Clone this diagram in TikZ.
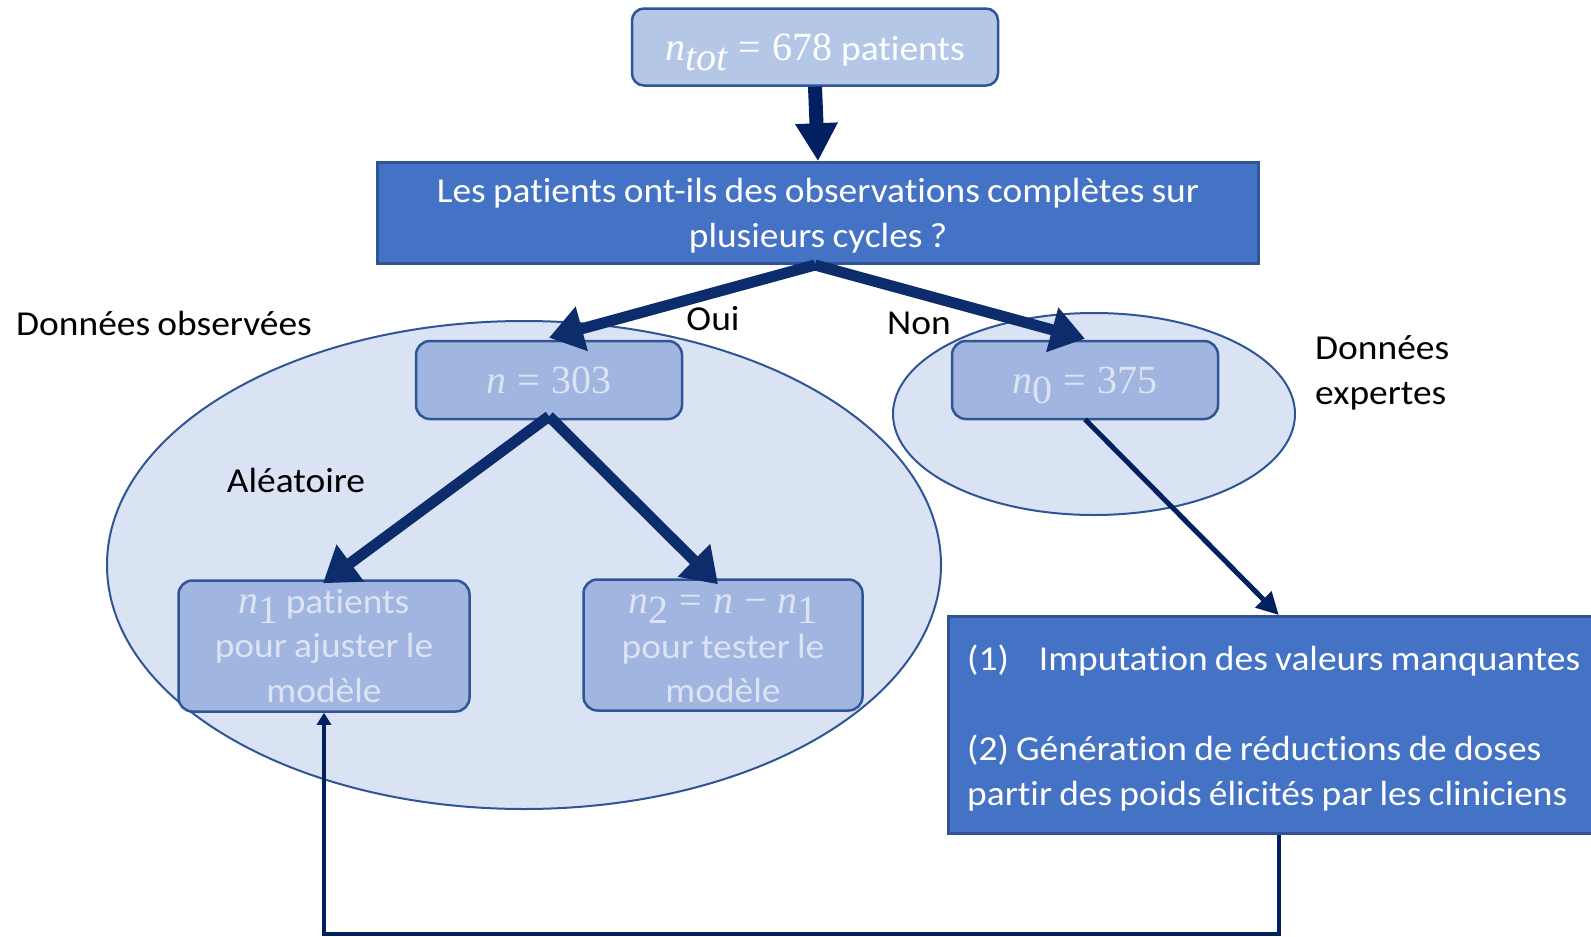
\documentclass[tikz,border=0pt]{standalone}
\usepackage{fontspec}
\setmainfont{Carlito}[Ligatures=NoCommon, FakeStretch=1.07, WordSpace=0.85]
\newfontfamily\mathfam{Liberation Serif}
\newcommand\mfs{\fontsize{40}{40}\selectfont}
\newcommand\mv[1]{{\mathfam\mfs\itshape #1}}
\newcommand\mn[1]{{\mathfam\mfs #1}}
\newcommand\subs[1]{\raisebox{-0.28em}{\fontsize{26}{26}\selectfont #1}}
\newcommand\mop[1]{\hspace{11pt}{\mathfam\mfs #1}\hspace{11pt}}
\usetikzlibrary{arrows.meta,shapes.geometric}
\definecolor{navy}{HTML}{002060}
\definecolor{navyb}{HTML}{0C2C6C}
\definecolor{bord}{HTML}{2F5597}
\definecolor{qfill}{HTML}{4472C4}
\definecolor{topfill}{HTML}{B4C7E7}
\definecolor{ellfill}{HTML}{DAE3F3}
\definecolor{boxfill}{HTML}{A0B6E0}
\definecolor{boxtext}{HTML}{DCE4F3}
\tikzset{
  darkbox/.style={draw=bord, line width=2.5pt, fill=qfill, text=white, inner sep=0pt},
  lightbox/.style={draw=bord, line width=2.5pt, fill=boxfill, text=boxtext, rounded corners=14pt, inner sep=0pt, align=center, font=\fontsize{35}{44.5}\selectfont},
  zone/.style={ellipse, draw=bord, line width=2pt, fill=ellfill, inner sep=0pt},
  lab/.style={text=black, font=\fontsize{35}{45}\selectfont, inner sep=0pt},
  bigarrow/.style={draw=navyb, line width=11pt, -{Triangle[length=34pt,width=44pt]}},
  thinarrow/.style={draw=navy, line width=5pt, -{Triangle[length=22pt,width=22pt]}},
  feedback/.style={draw=navy, line width=3.5pt, -{Triangle[length=12pt,width=14pt]}}
}
\begin{document}
\begin{tikzpicture}[x=1pt,y=-1pt]
\useasboundingbox (0,0) rectangle (1591,937);
\clip (0,0) rectangle (1591,937);
\fill[white] (0,0) rectangle (1591,937);

% zones
\node[zone, minimum width=834pt, minimum height=488pt] (eobs) at (524,565) {};
\node[zone, minimum width=402pt, minimum height=202pt] (eexp) at (1094,414) {};

% top box
\node[draw=bord, line width=2.5pt, fill=topfill, text=white, rounded corners=12pt,
      minimum width=366pt, minimum height=77pt, inner sep=0pt, text depth=0pt,
      font=\fontsize{35}{40}\selectfont] (top) at (815,47)
  {\mv{n}\subs{\mv{tot}}\mop{=}\mn{678}\hspace{9pt}patients};

% question box
\node[darkbox, minimum width=881pt, minimum height=101pt, align=center, text depth=0pt,
      font=\fontsize{35}{45}\selectfont] (q) at (818,213)
  {Les patients ont-ils des observations complètes sur\\plusieurs cycles ?};

% n boxes
\node[lightbox, minimum width=266pt, minimum height=78pt] (n) at (549,380) {\mv{n}\mop{=}\mn{303}};
\node[lightbox, minimum width=266pt, minimum height=78pt, text depth=0pt] (n0) at (1085,380) {\mv{n}\subs{\mn{0}}\mop{=}\mn{375}};
\node[lightbox, minimum width=291pt, minimum height=131pt] (n1) at (324,646)
  {\mv{n}\subs{\mn{1}} patients\\pour ajuster le\\modèle};
\node[lightbox, minimum width=279pt, minimum height=131pt] (n2) at (723,645)
  {\rule{0pt}{27pt}\mv{n}\subs{\mn{2}}\mop{=}\mv{n}\mop{−}\mv{n}\subs{\mn{1}}\\pour tester le\\modèle};

% big box
\node[darkbox, anchor=north west, minimum width=661pt, minimum height=217pt] (big) at (947,615) {};
\node[anchor=west, align=left, text=white, inner sep=0pt, text depth=0pt,
      font=\fontsize{35}{45}\selectfont] (bigtxt) at ([xshift=20pt]big.west)
  {(1)\hspace{30pt}Imputation des valeurs manquantes\\[45pt]
   (2) Génération de réductions de doses\\partir des poids élicités par les cliniciens};

% labels
\node[lab] (lobs) at (164,323) {Données observées};
\node[lab] (loui) at (713,319) {Oui};
\node[lab] (lnon) at (919,323) {Non};
\node[lab, anchor=west, align=left] (lexp) at (1315,373) {Données\\expertes};
\node[lab] (lalea) at (296,480) {Aléatoire};

% connectors
\coordinate (split) at (815,265);
\coordinate (bot) at (0,934);
\draw[draw=navy, line width=14pt, -{Triangle[length=38pt,width=40pt]}] (top.south) -- (q.north);
\draw[bigarrow] (split) -- ([yshift=2pt]n.north);
\draw[bigarrow] (split) -- ([yshift=1pt]n0.north);
\draw[bigarrow] ([yshift=4pt]n.south) -- ([shift={(-1pt,-4pt)}]n1.north);
\draw[bigarrow] ([yshift=4pt]n.south) -- ([shift={(-5pt,-6pt)}]n2.north);
\draw[thinarrow] ([yshift=1pt]n0.south) -- (big.north);
\draw[feedback] (big.south) -- (big.south |- bot) -| (n1.south);
\end{tikzpicture}
\end{document}
